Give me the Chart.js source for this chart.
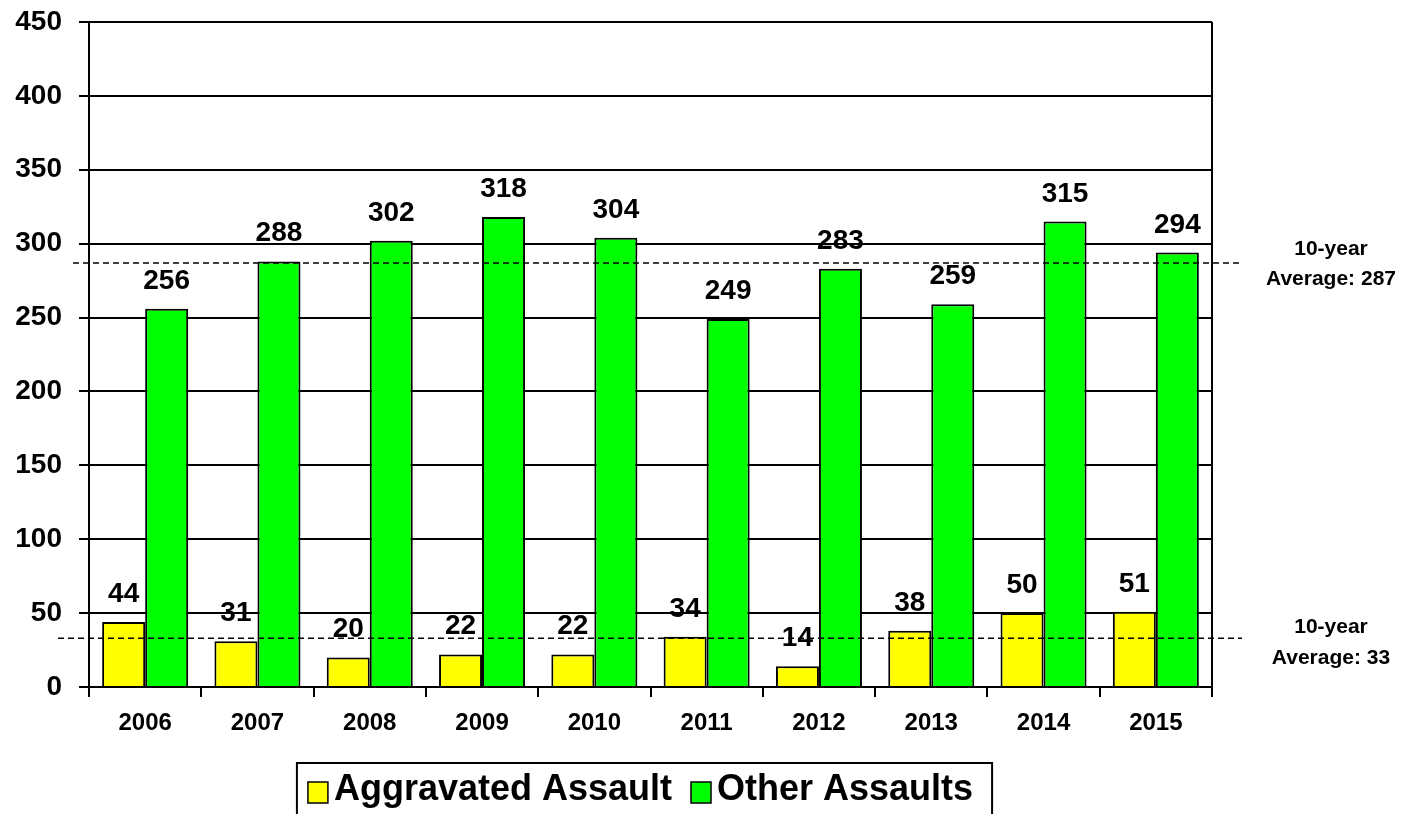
<!DOCTYPE html>
<html>
<head>
<meta charset="utf-8">
<script src="https://cdn.jsdelivr.net/npm/chart.js@4.4.1/dist/chart.umd.min.js"></script>
<style>
  html, body { margin: 0; padding: 0; background: #fff; }
  #wrap { width: 1405px; height: 814px; }
</style>
</head>
<body>
<div id="wrap"><canvas id="myChart" width="1405" height="814"></canvas></div>
<script>
const years = ['2006', '2007', '2008', '2009', '2010', '2011', '2012', '2013', '2014', '2015'];
const aggravated = [44, 31, 20, 22, 22, 34, 14, 38, 50, 51];
const otherAssaults = [256, 288, 302, 318, 304, 249, 283, 259, 315, 294];
const avgOther = 287;
const avgAggravated = 33;

const FONT = '"Liberation Sans", Arial, sans-serif';

// dashed 10-year average lines with their side notes
const averageLines = [
  { value: avgOther, from: -16, to: 31, above: 8, below: 22 },
  { value: avgAggravated, from: -31, to: 30, above: 5, below: 26 },
];

const extrasPlugin = {
  id: 'extras',
  afterDatasetsDraw(chart) {
    const { ctx, chartArea, scales } = chart;
    ctx.save();

    // right frame line
    ctx.strokeStyle = '#000';
    ctx.lineWidth = 2;
    ctx.beginPath();
    ctx.moveTo(chartArea.right, chartArea.top);
    ctx.lineTo(chartArea.right, chartArea.bottom);
    ctx.stroke();

    // averages
    averageLines.forEach((avg) => {
      const y = scales.y.getPixelForValue(avg.value);
      ctx.setLineDash([6, 4]);
      ctx.lineWidth = 1.5;
      ctx.beginPath();
      ctx.moveTo(chartArea.left + avg.from, y);
      ctx.lineTo(chartArea.right + avg.to, y);
      ctx.stroke();
      ctx.setLineDash([]);

      ctx.fillStyle = '#000';
      ctx.font = `bold 21px ${FONT}`;
      ctx.textAlign = 'center';
      ctx.textBaseline = 'alphabetic';
      const cx = chartArea.right + 119;
      ctx.fillText('10-year', cx, y - avg.above);
      ctx.fillText('Average: ' + avg.value, cx, y + avg.below);
    });

    // value labels above bars
    ctx.font = `bold 28px ${FONT}`;
    ctx.fillStyle = '#000';
    ctx.textAlign = 'center';
    ctx.textBaseline = 'alphabetic';
    chart.data.datasets.forEach((ds, di) => {
      chart.getDatasetMeta(di).data.forEach((bar, i) => {
        ctx.fillText(String(ds.data[i]), bar.x, bar.y - 20);
      });
    });

    ctx.restore();
  },
  afterDraw(chart) {
    // boxed legend under the axis
    const { ctx, chartArea } = chart;
    ctx.save();
    ctx.font = `bold 36px ${FONT}`;
    const boxW = 20, boxH = 21, gap = 6, spacing = 19;
    const items = chart.data.datasets.map((ds) => ({
      label: ds.label,
      color: ds.backgroundColor,
      w: ctx.measureText(ds.label).width,
    }));
    let total = 0;
    items.forEach((it, i) => {
      total += boxW + gap + it.w + (i < items.length - 1 ? spacing : 0);
    });
    let x = (chartArea.left + chartArea.right) / 2 - 10 - total / 2;
    const baseY = 800;

    ctx.strokeStyle = '#000';
    ctx.lineWidth = 2;
    ctx.strokeRect(x - 11, 763, total + 30, 80);

    ctx.textAlign = 'left';
    ctx.textBaseline = 'alphabetic';
    items.forEach((it) => {
      ctx.fillStyle = it.color;
      ctx.fillRect(x, 782, boxW, boxH);
      ctx.lineWidth = 1.5;
      ctx.strokeRect(x, 782, boxW, boxH);
      x += boxW + gap;
      ctx.fillStyle = '#000';
      ctx.fillText(it.label, x, baseY);
      x += it.w + spacing;
    });
    ctx.restore();
  },
};

const ctx = document.getElementById('myChart').getContext('2d');
const myChart = new Chart(ctx, {
  type: 'bar',
  data: {
    labels: years,
    datasets: [
      {
        label: 'Aggravated Assault',
        data: aggravated,
        backgroundColor: '#FFFF00',
        borderColor: '#000',
        borderWidth: 2,
      },
      {
        label: 'Other Assaults',
        data: otherAssaults,
        backgroundColor: '#00FF00',
        borderColor: '#000',
        borderWidth: 2,
      },
    ],
  },
  options: {
    responsive: false,
    devicePixelRatio: 1,
    animation: false,
    layout: { padding: { top: 22, right: 193, left: 0, bottom: 0 } },
    datasets: {
      bar: { categoryPercentage: 0.766, barPercentage: 1 },
    },
    plugins: {
      legend: { display: false },
      tooltip: { enabled: false },
    },
    scales: {
      x: {
        afterFit(scale) {
          scale.height = 127;
          scale.paddingLeft = 0;
          scale.paddingRight = 0;
        },
        grid: {
          offset: true,
          drawOnChartArea: false,
          drawTicks: true,
          tickLength: 10,
          color: '#000',
          lineWidth: 2,
        },
        border: { display: true, color: '#000', width: 2 },
        ticks: {
          color: '#000',
          padding: 12,
          font: { family: FONT, size: 24, weight: 'bold' },
        },
      },
      y: {
        min: 0,
        max: 450,
        afterFit(scale) {
          scale.width = 89;
          scale.paddingTop = 0;
          scale.paddingBottom = 0;
        },
        grid: {
          color: '#000',
          lineWidth: 2,
          drawTicks: true,
          tickLength: 10,
        },
        border: { display: true, color: '#000', width: 2 },
        ticks: {
          stepSize: 50,
          color: '#000',
          padding: 17,
          font: { family: FONT, size: 28, weight: 'bold' },
        },
      },
    },
  },
  plugins: [extrasPlugin],
});
</script>
</body>
</html>
